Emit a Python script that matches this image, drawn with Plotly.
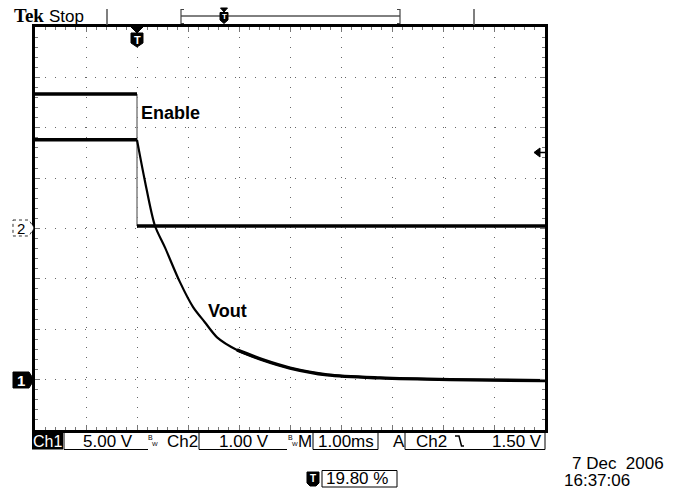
import plotly.graph_objects as go

# Tek scope capture: 1.00 ms/div, trigger at t = 0 (19.80 %)
# Ch2 = Enable, 1.00 V/div, ground at screen centre
enable_high_t = [-2.0, 0.0]
enable_high_v = [2.67, 2.67]
enable_low_t = [0.0, 8.0]
enable_low_v = [0.05, 0.05]

# Ch1 = Vout, 5.00 V/div, ground 3 div below centre
vout_t = [-2.0, 0.0, 0.16, 0.35, 0.55, 0.84, 1.10, 1.33, 1.57, 1.96,
          2.47, 3.00, 3.73, 4.76, 6.14, 8.0]
vout_v = [23.8, 23.8, 19.6, 15.3, 13.1, 9.7, 7.2, 5.7, 4.2, 2.95,
          1.95, 1.15, 0.47, 0.17, 0.0, -0.1]

x_range = [-2, 8]      # ms
ch2_range = [-4, 4]    # V
ch1_range = [-5, 35]   # V

# ── screen geometry (pixels) ──────────────────────────────────────────
W, H = 677, 489
L, R, T, B = 35, 545, 27, 430


def px(x):
    return (x - L) / (R - L)


def py(y):
    return (B - y) / (B - T)


FONT = "Liberation Sans"

fig = go.Figure()

# Enable edge (thin grey)
fig.add_trace(go.Scatter(x=[enable_high_t[1], enable_low_t[0]],
                         y=[enable_high_v[1], enable_low_v[0]],
                         mode="lines", line=dict(color="#808080", width=1.5)))
# Vout
fig.add_trace(go.Scatter(x=vout_t[:2], y=vout_v[:2], yaxis="y2", mode="lines",
                         line=dict(color="black", width=3.5)))
fig.add_trace(go.Scatter(x=vout_t[1:], y=vout_v[1:], yaxis="y2", mode="lines",
                         line=dict(color="black", width=2.2, shape="spline", smoothing=0.8)))
fig.add_trace(go.Scatter(x=vout_t[9:], y=vout_v[9:], yaxis="y2", mode="lines",
                         line=dict(color="black", width=3.4, shape="spline", smoothing=0.8)))
# Enable flats
fig.add_trace(go.Scatter(x=enable_high_t, y=enable_high_v, mode="lines",
                         line=dict(color="black", width=3.5)))
fig.add_trace(go.Scatter(x=enable_low_t, y=enable_low_v, mode="lines",
                         line=dict(color="black", width=3.5)))

grid_common = dict(
    showgrid=True, gridcolor="#666666", gridwidth=1.2,
    griddash="1px,9px",
    zeroline=False, showticklabels=False,
    ticks="inside", ticklen=5, tickcolor="#777777", tickwidth=1,
    minor=dict(ticks="inside", ticklen=3, tickcolor="#777777", showgrid=False),
    showline=True, linewidth=3, linecolor="black", mirror="ticks",
    fixedrange=True,
)
fig.update_xaxes(range=x_range, dtick=1, minor_dtick=0.2, **grid_common)
fig.update_yaxes(range=ch2_range, dtick=1, minor_dtick=0.2, **grid_common)
fig.update_layout(
    yaxis2=dict(range=ch1_range, overlaying="y", visible=False, fixedrange=True),
    width=W, height=H,
    margin=dict(l=L, r=W - R, t=T, b=H - B),
    paper_bgcolor="white", plot_bgcolor="white",
    showlegend=False, hovermode=False,
)

shapes = []
ann = []


def line(x0, y0, x1, y1, color="black", width=1):
    shapes.append(dict(type="line", xref="paper", yref="paper",
                       x0=px(x0), y0=py(y0), x1=px(x1), y1=py(y1),
                       line=dict(color=color, width=width)))


def poly(pts, fill="black", color="black", width=1, dash="solid"):
    path = "M " + " L ".join(f"{px(a):.5f},{py(b):.5f}" for a, b in pts) + " Z"
    shapes.append(dict(type="path", xref="paper", yref="paper", path=path,
                       fillcolor=fill, line=dict(color=color, width=width, dash=dash)))


def text(s, x, y, size=17, color="black", anchor="center", family=FONT):
    ann.append(dict(text=s, xref="paper", yref="paper", x=px(x), y=py(y),
                    xanchor=anchor, yanchor="middle", showarrow=False,
                    font=dict(family=family, size=size, color=color)))


# ── top bar ──────────────────────────────────────────────────────────
text("<b>Tek</b>", 12, 15.5, size=19, anchor="left", family="Liberation Serif")
text("Stop", 47, 16, size=17, anchor="left")
line(107, 9, 107, 25, color="#555", width=1.5)
line(474, 9, 474, 25, color="#555", width=1.5)
line(181, 16, 400, 16, color="black", width=1)
for bx, sx in [(181, 184), (400, 397)]:
    line(bx, 9, bx, 24, color="#444", width=1.2)
    line(bx, 9.5, sx, 9.5, color="#444", width=1)
    line(bx, 23.5, sx, 23.5, color="#444", width=1)
poly([(220.5, 8), (227.5, 8), (224, 12)])
poly([(220, 12.5), (228, 12.5), (228, 20), (224, 23.5), (220, 20)])
text("<b>T</b>", 224, 17, size=8, color="white")

# trigger marker under top border
poly([(131, 27), (143, 27), (137, 33)])
poly([(131, 33), (143, 33), (143, 43), (137, 47), (131, 43)])
text("<b>T</b>", 137, 39.5, size=11, color="white")

# channel ground markers
poly([(13, 220), (29, 220), (34, 228), (29, 236), (13, 236)],
     fill="white", color="#333", width=1, dash="dot")
text("2", 21, 228.5, size=15)
poly([(13, 372), (29, 372), (34, 380), (29, 388), (13, 388)])
text("<b>1</b>", 21, 380.5, size=15, color="white")

# trigger level arrow
poly([(534, 152.5), (540, 148), (540, 157)])
line(540, 152.5, 545, 152.5, width=1.5)

# trace labels
text("<b>Enable</b>", 139, 113, size=18, anchor="left")
text("<b>Vout</b>", 206, 311, size=18, anchor="left")

# ── bottom readout ───────────────────────────────────────────────────
shapes.append(dict(type="rect", xref="paper", yref="paper",
                   x0=px(32), x1=px(63), y0=py(433), y1=py(449.5),
                   fillcolor="black", line=dict(width=0)))
text("Ch1", 47.5, 441.5, size=16, color="white")
line(64, 433, 64, 449.5)
line(64, 449.5, 148, 449.5)
text("5.00 V", 108, 441.5)
text("B", 150, 437, size=7)
text("W", 154.5, 444, size=6)
text("Ch2", 182, 441.5)
line(199, 433, 199, 449.5)
line(199, 449.5, 287, 449.5)
text("1.00 V", 244, 441.5)
text("B", 290, 437, size=7)
text("W", 294.5, 444, size=6)
text("M", 305, 441.5)
for x0, x1 in [(313, 378), (405, 545)]:
    line(x0, 433, x0, 449.5)
    line(x0, 449.5, x1, 449.5)
    line(x1, 433, x1, 449.5)
text("1.00ms", 345.5, 441.5)
text("A", 398.5, 441.5)
text("Ch2", 431, 441.5)
shapes.append(dict(type="path", xref="paper", yref="paper",
                   path=(f"M {px(455):.5f},{py(436):.5f} L {px(459):.5f},{py(436):.5f} "
                         f"L {px(461.5):.5f},{py(446):.5f} L {px(464):.5f},{py(446):.5f}"),
                   line=dict(color="black", width=1.5)))
text("1.50 V", 516.5, 441.5)

# trigger position readout
poly([(307, 472), (319, 472), (319, 483), (316, 486), (310, 486), (307, 483)])
text("<b>T</b>", 313, 478.5, size=10, color="white")
shapes.append(dict(type="rect", xref="paper", yref="paper",
                   x0=px(322), x1=px(397), y0=py(470.5), y1=py(487),
                   fillcolor="rgba(0,0,0,0)", line=dict(color="black", width=1)))
text("19.80 %", 357, 479)

# date / time
text("7 Dec  2006", 570, 463.5, anchor="left")
text("16:37:06", 562, 480, anchor="left")

fig.update_layout(shapes=shapes, annotations=ann)
fig.write_html("out.html", config={"displayModeBar": False},
               post_script="document.body.style.margin='0';")
